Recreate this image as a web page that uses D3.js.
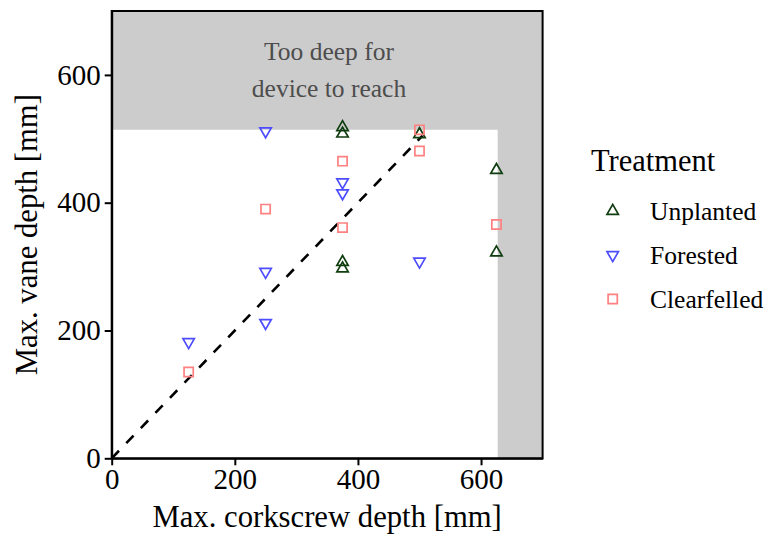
<!DOCTYPE html>
<html>
<head>
<meta charset="utf-8">
<script src="https://cdn.jsdelivr.net/npm/d3@7"></script>
<style>
  body { margin: 0; background: #fff; }
  svg text { font-family: "Liberation Serif", "Times New Roman", serif; }
</style>
</head>
<body>
<svg id="chart" width="766" height="534"></svg>
<script>
// data
const treatments = ["Unplanted", "Forested", "Clearfelled"]
const unplanted = [[375, 518], [375, 508], [375, 307], [375, 297], [500, 507], [625, 451], [625, 322]]
const forested = [[125, 182], [250, 512], [250, 292], [250, 212], [375, 432], [375, 415], [500, 308]]
const clearfelled = [[125, 135], [250, 390], [375, 465], [375, 361], [500, 514], [500, 481], [625, 366]]
const xTicks = [0, 200, 400, 600]
const yTicks = [0, 200, 400, 600]
const limitCork = 627   // device limit, corkscrew
const limitVane = 514   // device limit, vane
const oneToOneEnd = 505
const noteLines = ["Too deep for", "device to reach"]

const series = [unplanted, forested, clearfelled]
const colors = ["#0f3d0f", "#4d4dff", "#ff8080"]

const margin = {top: 11, left: 111.7, right: 766 - 542.6, bottom: 534 - 458.3}
const width = 766, height = 534

const svg = d3.select("#chart")

const x = d3.scaleLinear().domain([0, 700]).range([margin.left, width - margin.right])
const y = d3.scaleLinear().domain([0, 700]).range([height - margin.bottom, margin.top])

// shaded area the device can't reach
svg.append("path")
    .attr("d", `M${x(0)},${y(700)} H${x(700)} V${y(0)} H${x(limitCork)} V${y(limitVane)} H${x(0)} Z`)
    .attr("fill", "#cccccc")

// note inside the grey band
svg.append("text")
    .attr("x", x(353))
    .attr("y", y(700) + 49)
    .attr("text-anchor", "middle")
    .attr("fill", "#4d4d4d")
    .style("font-size", "25.5px")
    .selectAll("tspan").data(noteLines).join("tspan")
    .attr("x", x(353))
    .attr("dy", (d, i) => i === 0 ? 0 : 36.5)
    .text(d => d)

// 1:1 line
svg.append("line")
    .attr("x1", x(0)).attr("y1", y(0))
    .attr("x2", x(oneToOneEnd)).attr("y2", y(oneToOneEnd))
    .attr("stroke", "#000")
    .attr("stroke-width", 2.6)
    .attr("stroke-dasharray", "10.5,10.5")

function shapePath(k) {
    if (k === 0) { // triangle up
        return "M0,-6.6 L5.7,3.3 L-5.7,3.3 Z"
    } else if (k === 1) { // triangle down
        return "M0,6.6 L5.7,-3.3 L-5.7,-3.3 Z"
    }
    return "M-4.6,-4.6 H4.6 V4.6 H-4.6 Z"
}

series.forEach(function(pts, k) {
    svg.append("g").selectAll("path").data(pts).join("path")
        .attr("d", shapePath(k))
        .attr("transform", d => `translate(${x(d[0])},${y(d[1])})`)
        .attr("fill", "none")
        .attr("stroke", colors[k])
        .attr("stroke-width", 1.7)
})

// panel border
svg.append("rect")
    .attr("x", x(0)).attr("y", y(700))
    .attr("width", x(700) - x(0)).attr("height", y(0) - y(700))
    .attr("fill", "none")
    .attr("stroke", "#000")
    .attr("stroke-width", 2)

// axes
let xAxis = svg.append("g")
    .attr("transform", `translate(0, ${y(0)})`)
    .call(d3.axisBottom(x).tickValues(xTicks).tickSize(7).tickSizeOuter(0).tickPadding(3).tickFormat(d3.format("d")))
let yAxis = svg.append("g")
    .attr("transform", `translate(${x(0)}, 0)`)
    .call(d3.axisLeft(y).tickValues(yTicks).tickSize(7).tickSizeOuter(0).tickPadding(4).tickFormat(d3.format("d")))

;[xAxis, yAxis].forEach(function(a) {
    a.select(".domain").attr("stroke-width", 2)
    a.selectAll(".tick line").attr("stroke-width", 2)
    a.selectAll(".tick text")
        .attr("fill", "#000")
        .style("font-size", "29px")
        .style("font-family", "Liberation Serif, serif")
})

// axis titles
svg.append("text")
    .attr("x", (x(0) + x(700)) / 2)
    .attr("y", 527)
    .attr("text-anchor", "middle")
    .style("font-size", "30.7px")
    .text("Max. corkscrew depth [mm]")

svg.append("text")
    .attr("transform", `translate(37, ${(y(0) + y(700)) / 2}) rotate(-90)`)
    .attr("text-anchor", "middle")
    .style("font-size", "30.7px")
    .text("Max. vane depth [mm]")

// legend
let legend = svg.append("g").attr("transform", "translate(591, 171)")
legend.append("text")
    .attr("x", 0).attr("y", 0)
    .style("font-size", "30.5px")
    .text("Treatment")

let items = legend.selectAll(".item").data(treatments).join("g")
    .attr("class", "item")
    .attr("transform", (d, i) => `translate(0, ${40 + i * 44})`)

items.append("path")
    .attr("d", (d, i) => shapePath(i))
    .attr("transform", "translate(21.7, 0)")
    .attr("fill", "none")
    .attr("stroke", (d, i) => colors[i])
    .attr("stroke-width", 1.7)

items.append("text")
    .attr("x", 59)
    .attr("y", 9)
    .style("font-size", "25.5px")
    .text(d => d)
</script>
</body>
</html>
